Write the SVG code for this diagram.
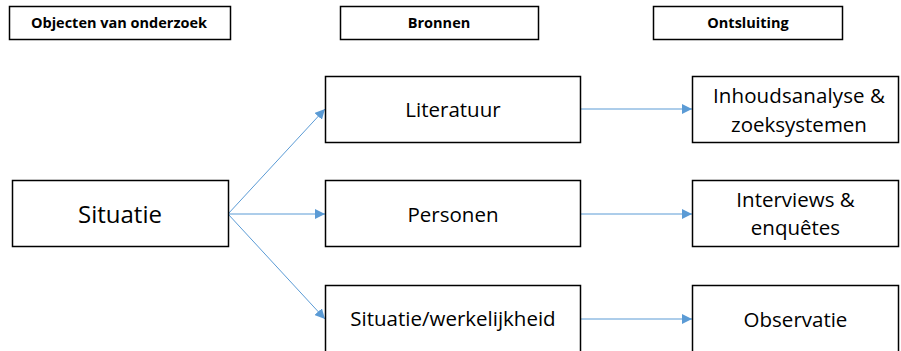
<svg xmlns="http://www.w3.org/2000/svg" width="901" height="351" viewBox="0 0 901 351">
  <style>
    .box { fill: #ffffff; stroke: #000000; stroke-width: 1.5; }
    .head { font-family: "Open Sans", "Liberation Sans", sans-serif; font-weight: bold; font-size: 14.5px; fill: #000000; text-anchor: middle; }
    .lbl { font-family: "Open Sans", "Liberation Sans", sans-serif; font-size: 20.5px; fill: #000000; text-anchor: middle; }
    .big { font-size: 24px; }
    .conn { stroke: #5b9bd5; stroke-width: 1; fill: none; marker-end: url(#arrow); }
  </style>
  <defs>
    <marker id="arrow" viewBox="0 0 10 10" refX="10" refY="5" markerWidth="10" markerHeight="10" markerUnits="userSpaceOnUse" orient="auto">
      <path d="M0,0 L10,5 L0,10 Z" fill="#5b9bd5"/>
    </marker>
  </defs>
  <rect width="901" height="351" fill="#ffffff"/>

  <!-- column headers -->
  <g id="hdr-objecten">
    <rect class="box" x="9.5" y="6.5" width="221" height="33"/>
    <text class="head" x="119" y="28">Objecten van onderzoek</text>
  </g>
  <g id="hdr-bronnen">
    <rect class="box" x="340.5" y="6.5" width="198" height="33"/>
    <text class="head" x="439" y="28">Bronnen</text>
  </g>
  <g id="hdr-ontsluiting">
    <rect class="box" x="653.5" y="6.5" width="189" height="33"/>
    <text class="head" x="748" y="28">Ontsluiting</text>
  </g>

  <!-- connectors -->
  <g id="connectors">
    <line class="conn" x1="228" y1="214" x2="325" y2="109"/>
    <line class="conn" x1="228" y1="214" x2="325" y2="214"/>
    <line class="conn" x1="228" y1="214" x2="325" y2="319"/>
    <line class="conn" x1="581" y1="109" x2="692" y2="109"/>
    <line class="conn" x1="581" y1="214" x2="692" y2="214"/>
    <line class="conn" x1="581" y1="319" x2="692" y2="319"/>
  </g>

  <!-- source column -->
  <g id="situatie">
    <rect class="box" x="12.5" y="180.5" width="216" height="66"/>
    <text class="lbl big" x="120" y="223">Situatie</text>
  </g>

  <g id="literatuur">
    <rect class="box" x="325.5" y="76.5" width="255" height="66"/>
    <text class="lbl" x="453" y="117">Literatuur</text>
  </g>
  <g id="personen">
    <rect class="box" x="325.5" y="180.5" width="255" height="66"/>
    <text class="lbl" x="453" y="222">Personen</text>
  </g>
  <g id="werkelijkheid">
    <rect class="box" x="325.5" y="285.5" width="255" height="70"/>
    <text class="lbl" x="453" y="326">Situatie/werkelijkheid</text>
  </g>

  <g id="inhoudsanalyse">
    <rect class="box" x="692.5" y="76.5" width="206" height="66"/>
    <text class="lbl" x="799" y="103" textLength="172" lengthAdjust="spacing">Inhoudsanalyse &amp;</text>
    <text class="lbl" x="799" y="132">zoeksystemen</text>
  </g>
  <g id="interviews">
    <rect class="box" x="692.5" y="180.5" width="206" height="66"/>
    <text class="lbl" x="795.5" y="207">Interviews &amp;</text>
    <text class="lbl" x="795.5" y="235">enquêtes</text>
  </g>
  <g id="observatie">
    <rect class="box" x="692.5" y="285.5" width="206" height="70"/>
    <text class="lbl" x="795.5" y="327">Observatie</text>
  </g>
</svg>
